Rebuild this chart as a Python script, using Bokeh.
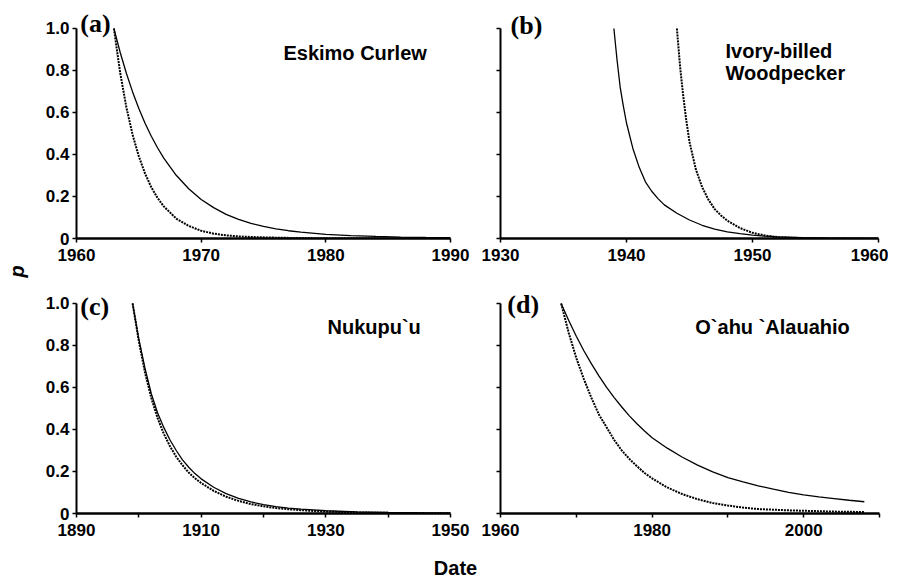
import math
from bokeh.plotting import figure
from bokeh.models import Range1d, FixedTicker, Label
from bokeh.layouts import row, column
from bokeh.embed import file_html
from bokeh.resources import INLINE

# ---------------- data ----------------
# (a) Eskimo Curlew
a_sol_year = [1963, 1963.5, 1964, 1964.5, 1965, 1965.5, 1966, 1966.5, 1967, 1968, 1969, 1970,
              1971, 1972, 1973, 1974, 1975, 1976, 1977, 1978, 1980, 1982, 1984, 1986, 1988, 1990]
a_sol_p = [1.0, 0.887, 0.787, 0.698, 0.619, 0.549, 0.487, 0.432, 0.383, 0.301, 0.237, 0.186,
           0.147, 0.115, 0.091, 0.072, 0.058, 0.046, 0.037, 0.030, 0.020, 0.014, 0.010, 0.007, 0.005, 0.004]
a_dot_year = [1963, 1963.5, 1964, 1964.5, 1965, 1965.5, 1966, 1966.5, 1967, 1968, 1969, 1970,
              1971, 1972, 1973, 1974, 1976, 1978, 1980, 1985, 1990]
a_dot_p = [1.0, 0.79, 0.625, 0.494, 0.391, 0.309, 0.244, 0.193, 0.153, 0.095, 0.060, 0.037,
           0.023, 0.015, 0.010, 0.007, 0.004, 0.002, 0.0015, 0.0008, 0.0005]

# (b) Ivory-billed Woodpecker
b_sol_year = [1939, 1939.25, 1939.5, 1939.75, 1940, 1940.5, 1941, 1941.5, 1942, 1942.5, 1943, 1944,
              1945, 1946, 1947, 1948, 1949, 1950, 1951, 1952, 1954, 1956, 1958, 1960]
b_sol_p = [1.0, 0.85, 0.72, 0.63, 0.55, 0.43, 0.34, 0.27, 0.225, 0.19, 0.16, 0.12,
           0.088, 0.063, 0.045, 0.032, 0.023, 0.016, 0.011, 0.008, 0.004, 0.002, 0.001, 0.0005]
b_dot_year = [1944, 1944.25, 1944.5, 1944.75, 1945, 1945.5, 1946, 1946.5, 1947, 1947.5, 1948, 1949,
              1950, 1951, 1952, 1953, 1954, 1956, 1958, 1960]
b_dot_p = [1.0, 0.82, 0.68, 0.56, 0.46, 0.33, 0.245, 0.185, 0.14, 0.11, 0.085, 0.05,
           0.027, 0.014, 0.007, 0.004, 0.002, 0.001, 0.0005, 0.0003]

# (c) Nukupu`u
c_year = [1899, 1900, 1901, 1902, 1903, 1904, 1905, 1906, 1907, 1908, 1909, 1910, 1912, 1914,
          1916, 1918, 1920, 1922, 1924, 1926, 1928, 1930, 1935, 1940, 1945, 1950]
c_sol_p = [1.0, 0.83, 0.69, 0.57, 0.48, 0.41, 0.35, 0.30, 0.255, 0.22, 0.19, 0.165, 0.125, 0.095,
           0.072, 0.055, 0.042, 0.033, 0.026, 0.021, 0.017, 0.013, 0.008, 0.005, 0.003, 0.002]
c_dot_p = [1.0, 0.82, 0.67, 0.55, 0.455, 0.38, 0.32, 0.27, 0.23, 0.195, 0.168, 0.145, 0.108, 0.080,
           0.060, 0.045, 0.034, 0.026, 0.020, 0.016, 0.012, 0.009, 0.005, 0.003, 0.002, 0.001]

# (d) O`ahu `Alauahio
d_year = [1968, 1969, 1970, 1971, 1972, 1973, 1974, 1975, 1976, 1977, 1978, 1979, 1980, 1982,
          1984, 1986, 1988, 1990, 1992, 1994, 1996, 1998, 2000, 2002, 2004, 2006, 2008]
d_sol_p = [1.0, 0.919, 0.844, 0.775, 0.712, 0.654, 0.600, 0.552, 0.507, 0.465, 0.427, 0.393, 0.361,
           0.311, 0.268, 0.230, 0.198, 0.171, 0.150, 0.132, 0.116, 0.101, 0.089, 0.079, 0.071, 0.063, 0.056]
d_dot_p = [1.0, 0.86, 0.74, 0.64, 0.55, 0.47, 0.41, 0.35, 0.30, 0.26, 0.225, 0.193, 0.167, 0.124,
           0.092, 0.068, 0.050, 0.038, 0.028, 0.021, 0.018, 0.015, 0.013, 0.011, 0.009, 0.008, 0.007]

y_ticks = [0, 0.2, 0.4, 0.6, 0.8, 1.0]
y_tick_labels = ["0", "0.2", "0.4", "0.6", "0.8", "1.0"]

a_xticks = [1960, 1970, 1980, 1990]
b_xticks = [1930, 1940, 1950, 1960]
c_xticks = [1890, 1900, 1910, 1920, 1930, 1940, 1950]
c_xhide = [1900, 1920, 1940]
d_xticks = [1960, 1970, 1980, 1990, 2000, 2010]
d_xhide = [1970, 1990, 2010]

SANS = "Liberation Sans"
SERIF = "Liberation Serif"


def panel(xr, xticks, xhide, ylabels, fw, fh, ytop, left, right, bottom):
    p = figure(frame_width=fw, frame_height=fh,
               x_range=Range1d(xr[0], xr[1]), y_range=Range1d(0, ytop),
               output_backend="svg", toolbar_location=None,
               min_border_left=left, min_border_right=right,
               min_border_top=0, min_border_bottom=bottom)
    p.grid.grid_line_color = None
    p.outline_line_color = None
    p.background_fill_color = "white"
    p.border_fill_color = "white"

    xa = p.xaxis[0]
    xa.ticker = FixedTicker(ticks=xticks)
    xa.major_label_overrides = {t: ("" if t in xhide else str(t)) for t in xticks}
    xa.axis_line_width = 2.5
    xa.axis_line_color = "black"
    xa.major_tick_in = 0
    xa.major_tick_out = 4
    xa.major_tick_line_width = 1.5
    xa.minor_tick_line_color = None
    xa.major_label_standoff = 6
    xa.major_label_text_font = SANS
    xa.major_label_text_font_style = "bold"
    xa.major_label_text_font_size = "17px"
    xa.major_label_text_color = "black"

    ya = p.yaxis[0]
    ya.ticker = FixedTicker(ticks=y_ticks)
    ya.bounds = (0, 1)
    if ylabels:
        ya.major_label_overrides = {t: s for t, s in zip(y_ticks, y_tick_labels)}
    else:
        ya.major_label_overrides = {t: "" for t in y_ticks}
    ya.axis_line_width = 2
    ya.axis_line_color = "black"
    ya.major_tick_in = 0
    ya.major_tick_out = 4
    ya.major_tick_line_width = 1.5
    ya.minor_tick_line_color = None
    ya.major_label_standoff = 3
    ya.major_label_text_font = SANS
    ya.major_label_text_font_style = "bold"
    ya.major_label_text_font_size = "17px"
    ya.major_label_text_color = "black"
    return p


def curves(p, xs, ys, xd, yd):
    p.line(xs, ys, line_color="black", line_width=1.3)
    p.line(xd, yd, line_color="black", line_width=2, line_dash="2 1")


def tag(p, x, y, text):
    p.add_layout(Label(x=x, y=y, text=text, text_font=SERIF, text_font_style="bold",
                       text_font_size="26px", text_color="black", text_baseline="alphabetic"))


def name(p, x, y, text):
    p.add_layout(Label(x=x, y=y, text=text, text_font=SANS, text_font_style="bold",
                       text_font_size="20px", text_color="black", text_baseline="alphabetic"))


# top row: frame from page top (y=1.133) down to p=0 at 238 px
pa = panel((1960, 1990), a_xticks, [], True, 374, 238, 1.1333, 44, 20, 45)
curves(pa, a_sol_year, a_sol_p, a_dot_year, a_dot_p)
tag(pa, 1960.3, 1.025, "(a)")
name(pa, 1976.6, 0.881, "Eskimo Curlew")

pb = panel((1930, 1960), b_xticks, [], False, 378, 238, 1.1333, 30, 10, 45)
curves(pb, b_sol_year, b_sol_p, b_dot_year, b_dot_p)
tag(pb, 1930.8, 1.015, "(b)")
name(pb, 1947.86, 0.895, "Ivory-billed")
name(pb, 1947.86, 0.79, "Woodpecker")

# bottom row
pc = panel((1890, 1950), c_xticks, c_xhide, True, 374, 230, 1.095, 44, 20, 35)
curves(pc, c_year, c_sol_p, c_year, c_dot_p)
tag(pc, 1890.6, 0.986, "(c)")
name(pc, 1930.27, 0.886, "Nukupu`u")

pd = panel((1960, 2010), d_xticks, d_xhide, False, 379, 230, 1.095, 30, 9, 35)
curves(pd, d_year, d_sol_p, d_year, d_dot_p)
tag(pd, 1960.9, 0.995, "(d)")
name(pd, 1985.7, 0.886, "O`ahu `Alauahio")

# y-axis title column
pf = figure(width=32, height=548, x_range=Range1d(0, 32), y_range=Range1d(0, 548),
            output_backend="svg", toolbar_location=None, min_border=0,
            x_axis_location=None, y_axis_location=None)
pf.outline_line_color = None
pf.grid.grid_line_color = None
pf.add_layout(Label(x=16, y=277, text="p", angle=math.pi / 2, text_font=SANS,
                    text_font_style="bold italic", text_font_size="20px",
                    text_align="center", text_baseline="middle", text_color="black"))

# x-axis title row
pt = figure(width=888, height=36, x_range=Range1d(0, 888), y_range=Range1d(0, 36),
            output_backend="svg", toolbar_location=None, min_border=0,
            x_axis_location=None, y_axis_location=None)
pt.outline_line_color = None
pt.grid.grid_line_color = None
pt.add_layout(Label(x=455, y=17, text="Date", text_font=SANS, text_font_style="bold",
                    text_font_size="20px", text_align="center", text_baseline="middle",
                    text_color="black"))

layout = column(row(pf, column(row(pa, pb), row(pc, pd))), pt)

open("out.html", "w").write(file_html(layout, INLINE))
